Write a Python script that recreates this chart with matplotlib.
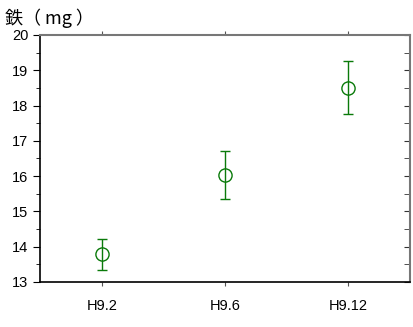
import matplotlib
matplotlib.use("Agg")
from matplotlib import pyplot as plt
from matplotlib.ticker import MultipleLocator

plt.rcParams["font.family"] = ["Liberation Sans", "Noto Sans CJK JP", "DejaVu Sans"]

periods = ["H9.2", "H9.6", "H9.12"]
iron_mean = [13.78, 16.03, 18.5]
iron_err = [0.43, 0.67, 0.75]
y_ticks = [13, 14, 15, 16, 17, 18, 19, 20]


def main() -> None:
    fig = plt.figure(figsize=(4.14, 3.27), dpi=100)
    ax = fig.add_axes([0.097, 0.138, 0.893, 0.755])

    x = list(range(len(periods)))
    ax.errorbar(x, iron_mean, yerr=iron_err, fmt="o", mfc="none", mec="#0a7a0a",
                ms=9.5, mew=1.0, ecolor="#0a7a0a", elinewidth=1.0, capsize=3.5, capthick=1.0)

    ax.set_xlim(-0.5, 2.5)
    ax.set_ylim(13, 20)
    ax.set_xticks(x)
    ax.set_xticklabels(periods)
    ax.set_yticks(y_ticks)
    ax.yaxis.set_minor_locator(MultipleLocator(0.5))

    for side in ["left", "bottom"]:
        ax.spines[side].set_color("black")
        ax.spines[side].set_linewidth(1.2)
    for side in ["top", "right"]:
        ax.spines[side].set_color("#777777")
        ax.spines[side].set_linewidth(1.5)

    ax.tick_params(axis="y", which="both", left=True, right=False, labelsize=10.5)
    ax.tick_params(axis="y", which="major", direction="out", length=5, color="black")
    ax.tick_params(axis="y", which="minor", direction="out", length=3, color="black")
    ax.tick_params(axis="x", which="both", top=True, bottom=True, direction="out",
                   length=3, color="#555555", labelsize=10.5, pad=9)

    # ticks on the right side point inward
    ax2 = ax.secondary_yaxis("right")
    ax2.set_yticks(y_ticks)
    ax2.yaxis.set_minor_locator(MultipleLocator(0.5))
    ax2.tick_params(which="both", direction="in", labelright=False, color="#333333", length=4)
    ax2.spines["right"].set_visible(False)

    fig.text(0.013, 0.945, "鉄（ mg ）", fontsize=13,
             family=["Noto Sans CJK JP", "DejaVu Sans"], va="center")

    fig.savefig("out.png", dpi=100)


if __name__ == "__main__":
    main()
